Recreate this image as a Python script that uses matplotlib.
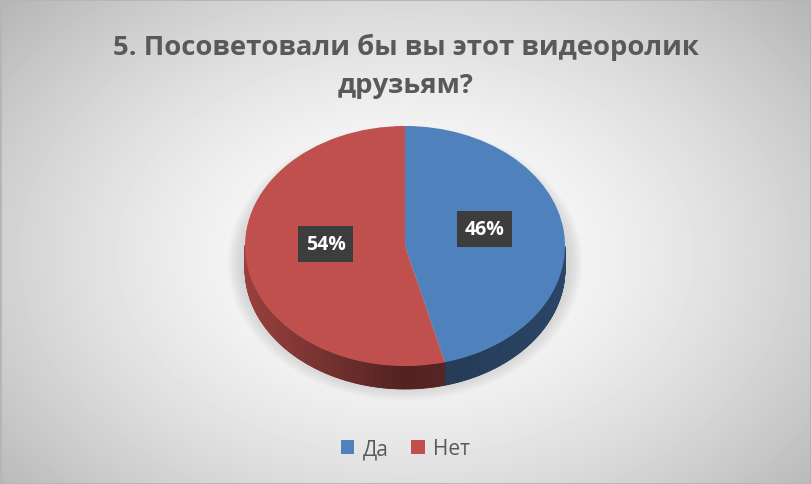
import matplotlib
matplotlib.use("Agg")
import matplotlib.pyplot as plt
import numpy as np
from matplotlib import font_manager
from matplotlib.collections import PolyCollection
from matplotlib.colors import to_rgb
from matplotlib.patches import Ellipse, Rectangle

# data
title = "5. Посоветовали бы вы этот видеоролик\nдрузьям?"
labels = ["Да", "Нет"]
values = [46, 54]
colors = ["#4F81BD", "#C0504D"]

W, H = 811, 485
installed = {f.name for f in font_manager.fontManager.ttflist}
family = [f for f in ["Liberation Sans Narrow", "Open Sans", "DejaVu Sans"] if f in installed]
plt.rcParams["font.family"] = family

fig = plt.figure(figsize=(W / 100, H / 100), dpi=100)

# radial grey background
bg = fig.add_axes([0, 0, 1, 1])
bg.set_axis_off()
yy, xx = np.mgrid[0:H, 0:W]
r = np.hypot((xx - 405) / 430, (yy - 255) / 300)
g = 1 - 0.2 * np.clip(r, 0, 1.3) ** 1.6
bg.imshow(g, cmap="gray", vmin=0, vmax=1, extent=(0, W, H, 0), aspect="auto")

# pie geometry in pixels
cx, cy, rx, ry, depth = 405, 247, 160, 120, 23
ax = fig.add_axes([0, 0, 1, 1])
ax.set_axis_off()

# soft shadow
for k in range(16):
    ax.add_patch(Ellipse((0, -0.14), 1.98 + 0.016 * k, 2.0 + 0.02 * k,
                         fc="#7a7a7a", ec="none", alpha=0.02, zorder=0.5))

# side of the 3d pie
bounds = 90 - np.concatenate([[0], np.cumsum(values)]) / sum(values) * 360
d = depth / ry
quads, qcols = [], []
for i in range(len(values)):
    th = np.radians(np.linspace(bounds[i + 1], bounds[i], 300))
    for a, b in zip(th[:-1], th[1:]):
        m = (a + b) / 2
        if np.sin(m) > 0:
            continue
        c = np.cos(m)
        shade = 0.42 + 0.38 * (-c) if c < 0 else 0.42 + 0.12 * c
        quads.append([(np.cos(a), np.sin(a)), (np.cos(b), np.sin(b)),
                      (np.cos(b), np.sin(b) - d), (np.cos(a), np.sin(a) - d)])
        qcols.append(np.clip(np.array(to_rgb(colors[i])) * shade, 0, 1))
ax.add_collection(PolyCollection(quads, facecolors=qcols, edgecolors=qcols,
                                 linewidths=0.6, zorder=1))

wedges, _, autotexts = ax.pie(
    values, colors=colors, startangle=90, counterclock=False,
    autopct="%d%%", pctdistance=0.5,
    wedgeprops=dict(linewidth=0, zorder=2),
    textprops=dict(color="white", fontsize=14, weight="bold"),
)
for t in autotexts:
    x, y = t.get_position()
    t.set_position((x, y + 0.08))
    t.set_zorder(5)
    t.set_bbox(dict(boxstyle="square,pad=0.4", fc="#3d3d3d", ec="none"))

ax.set_aspect("auto")
ax.set_xlim(-cx / rx, (W - cx) / rx)
ax.set_ylim(-(H - cy) / ry, cy / ry)

# title, fitted to the reference width
tt = fig.text(0.5, 1 - 66 / H, title, ha="center", va="center", fontsize=22,
              weight="bold", color="#595959", linespacing=1.6)
fig.canvas.draw()
wpx = tt.get_window_extent().width
tt.set_fontsize(22 * 585 / wpx)

fig.legend(wedges, labels, loc="center", bbox_to_anchor=(0.5, 1 - 450 / H),
           ncol=2, frameon=False, fontsize=15, handlelength=0.65,
           handleheight=0.65, handletextpad=0.4, columnspacing=1.1,
           labelcolor="#595959")

fig.patches.append(Rectangle((0, 0), 1, 1, transform=fig.transFigure,
                             fill=False, ec="#b5b5b5", lw=2))

fig.savefig("out.png", dpi=100)
